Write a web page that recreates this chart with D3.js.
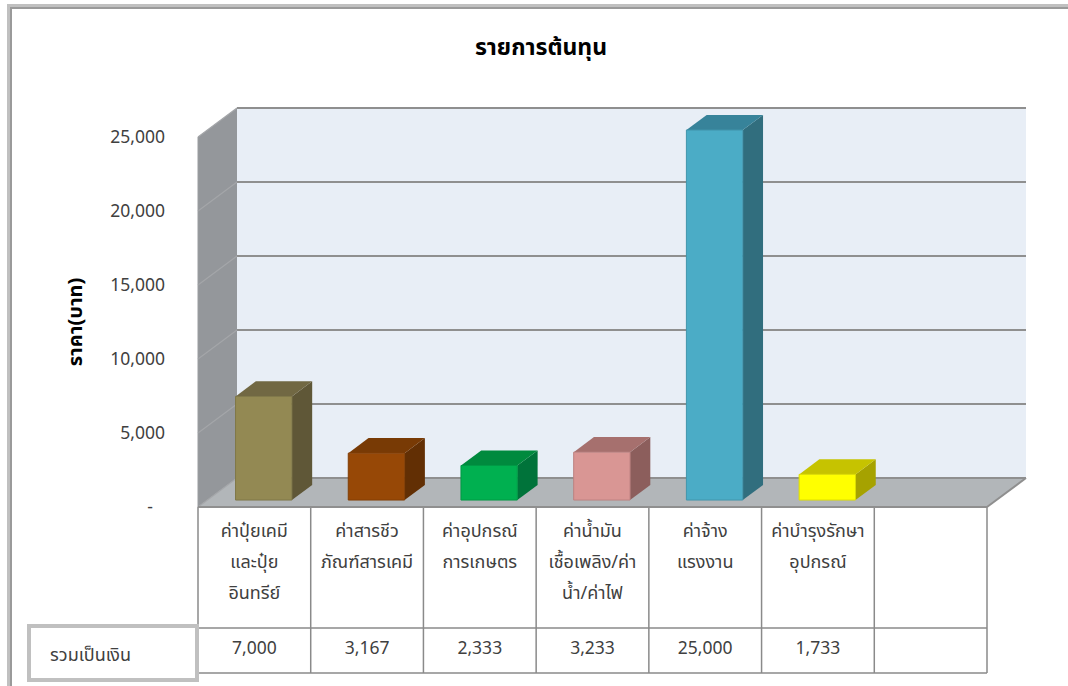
<!DOCTYPE html>
<html><head><meta charset="utf-8">
<script src="https://cdn.jsdelivr.net/npm/d3@7/dist/d3.min.js"></script>
<style>
html,body{margin:0;padding:0;background:#fff;}
svg{display:block;}
text{font-family:Tahoma,"Noto Sans Thai","Noto Sans","DejaVu Sans",sans-serif;}
</style></head>
<body><svg id="c" width="1068" height="686"></svg>
<script>
const title = "รายการต้นทุน";
const yTitle = "ราคา(บาท)";
const rowTitle = "รวมเป็นเงิน";
const categories = [
  ["ค่าปุ๋ยเคมี","และปุ๋ย","อินทรีย์"],
  ["ค่าสารชีว","ภัณฑ์สารเคมี"],
  ["ค่าอุปกรณ์","การเกษตร"],
  ["ค่าน้ำมัน","เชื้อเพลิง/ค่า","น้ำ/ค่าไฟ"],
  ["ค่าจ้าง","แรงงาน"],
  ["ค่าบำรุงรักษา","อุปกรณ์"],
  []
];
const values = [7000, 3167, 2333, 3233, 25000, 1733, null];
const tickValues = [0, 5000, 10000, 15000, 20000, 25000];
const tickLabels = ["-", "5,000", "10,000", "15,000", "20,000", "25,000"];
const frontColors = ["#938953","#974806","#00b050","#d99694","#4bacc6","#ffff00"];
const topColors   = ["#716843","#783a05","#008a3e","#a6706e","#37839a","#c6c300"];
const sideColors  = ["#5f5737","#622f04","#00733a","#8c5e5c","#316e7e","#a6a200"];

const svg = d3.select("#c");
// frame
svg.append("rect").attr("x",7).attr("y",4).attr("width",1061).attr("height",5).attr("fill","#c0c0c0");
svg.append("rect").attr("x",7).attr("y",4).attr("width",5).attr("height",682).attr("fill","#c0c0c0");
svg.append("rect").attr("x",10).attr("y",7).attr("width",1058).attr("height",2).attr("fill","#9a9a9a");
svg.append("rect").attr("x",10).attr("y",7).attr("width",2).attr("height",679).attr("fill","#9a9a9a");

// geometry
const x0 = 198, x1 = 987, yBase = 507, DX = 39, DY = 29;
const x = d3.scaleBand().domain(d3.range(categories.length)).range([x0, x1]).paddingInner(0).paddingOuter(0);
const y = d3.scaleLinear().domain([0, 25000]).range([yBase, 137]);
const P = (xf, v, d) => [xf + d*DX, y(v) - d*DY];
const pts = a => a.map(p => p.join(",")).join(" ");

// side wall
svg.append("polygon").attr("points", pts([P(x0,0,0),P(x0,0,1),P(x0,25000,1),P(x0,25000,0)])).attr("fill","#94979b");
// back wall
svg.append("polygon").attr("points", pts([P(x0,0,1),P(x1,0,1),P(x1,25000,1),P(x0,25000,1)])).attr("fill","#e8eef6");
// floor
svg.append("polygon").attr("points", pts([P(x0,0,0),P(x1,0,0),P(x1,0,1),P(x0,0,1)])).attr("fill","#b2b6b9");

// gridlines
const g = svg.append("g");
tickValues.forEach(v => {
  g.append("line").attr("x1",P(x0,v,1)[0]).attr("y1",P(x0,v,1)[1]).attr("x2",P(x1,v,1)[0]).attr("y2",P(x1,v,1)[1])
    .attr("stroke","#8f8f8f").attr("stroke-width",2);
  g.append("line").attr("x1",P(x0,v,0)[0]).attr("y1",P(x0,v,0)[1]).attr("x2",P(x0,v,1)[0]).attr("y2",P(x0,v,1)[1])
    .attr("stroke","#a4a6a9").attr("stroke-width",1.2);
});
// floor edges
g.append("line").attr("x1",P(x1,0,0)[0]).attr("y1",P(x1,0,0)[1]).attr("x2",P(x1,0,1)[0]).attr("y2",P(x1,0,1)[1]).attr("stroke","#8f8f8f").attr("stroke-width",2);
g.append("line").attr("x1",P(x0,0,0)[0]).attr("y1",P(x0,0,0)[1]).attr("x2",P(x0,25000,0)[0]).attr("y2",P(x0,25000,0)[1]).attr("stroke","#9a9da0").attr("stroke-width",1);

// bars
const dF = 0.24, dB = 0.76, bwFrac = 0.5;
values.forEach((v, i) => {
  if (v == null) return;
  const bw = x.bandwidth()*bwFrac;
  const xl = x(i) + (x.bandwidth()-bw)/2, xr = xl + bw;
  const bar = svg.append("g");
  const fb = P(xl,0,dF), ft = P(xl,v,dF), frt = P(xr,v,dF), frb = P(xr,0,dF);
  const bt = P(xl,v,dB), brt = P(xr,v,dB), brb = P(xr,0,dB);
  bar.append("polygon").attr("points", pts([frb, frt, brt, brb])).attr("fill", sideColors[i]);
  bar.append("polygon").attr("points", pts([ft, bt, brt, frt])).attr("fill", topColors[i]);
  bar.append("polygon").attr("points", pts([fb, ft, frt, frb])).attr("fill", frontColors[i])
    .attr("stroke", d3.color(frontColors[i]).darker(0.4)).attr("stroke-width",1);
});

// tick labels
tickValues.forEach((v, i) => {
  svg.append("text").attr("x", i===0 ? 153 : 165).attr("y", y(v)).attr("dy","0.35em")
    .attr("text-anchor","end").attr("font-size",17.5).attr("fill","#404040").text(tickLabels[i]);
});
// axis title
svg.append("text").attr("transform","translate(75,322) rotate(-90)").attr("text-anchor","middle")
  .attr("dy","0.35em").attr("font-size",20).attr("font-weight","bold").attr("fill","#000").text(yTitle);
// chart title
svg.append("text").attr("x",541).attr("y",47).attr("text-anchor","middle").attr("dy","0.35em")
  .attr("font-size",23).attr("font-weight","bold").attr("fill","#000").text(title);

// data table
const tRow1 = 628, tRow2 = 673;
const tg = svg.append("g").attr("stroke","#8a8a8a").attr("stroke-width",1.5);
tg.append("line").attr("x1",x0).attr("x2",x1).attr("y1",tRow1).attr("y2",tRow1);
tg.append("line").attr("x1",x0).attr("x2",x1).attr("y1",tRow2).attr("y2",tRow2);
d3.range(categories.length+1).forEach(k => {
  const xx = k < categories.length ? x(k) : x1;
  tg.append("line").attr("x1",xx).attr("x2",xx).attr("y1",yBase).attr("y2",tRow2);
});
// front floor edge
svg.append("line").attr("x1",x0).attr("x2",x1).attr("y1",yBase).attr("y2",yBase).attr("stroke","#8f8f8f").attr("stroke-width",2);

categories.forEach((lines, i) => {
  lines.forEach((ln, j) => {
    svg.append("text").attr("x", x(i)+x.bandwidth()/2).attr("y", 531 + j*31).attr("dy","0.35em")
      .attr("text-anchor","middle").attr("font-size",18).attr("fill","#404040").text(ln);
  });
  if (values[i] != null) {
    svg.append("text").attr("x", x(i)+x.bandwidth()/2).attr("y", 648).attr("dy","0.35em")
      .attr("text-anchor","middle").attr("font-size",17.5).attr("fill","#404040").text(d3.format(",")(values[i]));
  }
});
// row title box
svg.append("rect").attr("x",29).attr("y",626).attr("width",168).attr("height",54)
  .attr("fill","#fff").attr("stroke","#c0c0c0").attr("stroke-width",4);
svg.append("text").attr("x",50).attr("y",655).attr("dy","0.35em").attr("font-size",18).attr("fill","#404040").text(rowTitle);
</script></body></html>
